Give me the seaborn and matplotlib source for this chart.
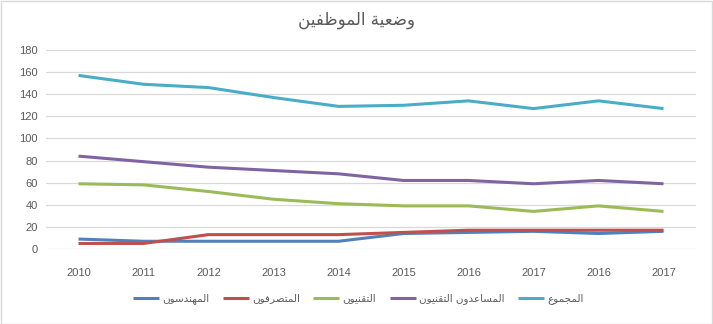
import matplotlib
matplotlib.use("Agg")
import matplotlib.pyplot as plt
import seaborn as sns
import pandas as pd

# ---------------- data ----------------
years = ["2010", "2011", "2012", "2013", "2014", "2015", "2016", "2017", "2016", "2017"]
engineers = [9, 7, 7, 7, 7, 14, 15, 16, 14, 16]
administrators = [5, 5, 13, 13, 13, 15, 17, 17, 17, 17]
technicians = [59, 58, 52, 45, 41, 39, 39, 34, 39, 34]
assistant_technicians = [84, 79, 74, 71, 68, 62, 62, 59, 62, 59]
total = [157, 149, 146, 137, 129, 130, 134, 127, 134, 127]

title_text = "وضعية الموظفين"
series_names = ["المهندسون", "المتصرفون", "التقنيون", "المساعدون التقنيون", "المجموع"]
colors = ["#4F81BD", "#C0504D", "#9BBB59", "#8064A2", "#4BACC6"]

# ------------- minimal Arabic shaping (matplotlib has no bidi/shaping) -------------
FORMS = {  # isolated, final, initial, medial (None => right-joining only)
    "ا": (0xFE8D, 0xFE8E, None, None),
    "ت": (0xFE95, 0xFE96, 0xFE97, 0xFE98),
    "ة": (0xFE93, 0xFE94, None, None),
    "ج": (0xFE9D, 0xFE9E, 0xFE9F, 0xFEA0),
    "د": (0xFEA9, 0xFEAA, None, None),
    "ر": (0xFEAD, 0xFEAE, None, None),
    "س": (0xFEB1, 0xFEB2, 0xFEB3, 0xFEB4),
    "ص": (0xFEB9, 0xFEBA, 0xFEBB, 0xFEBC),
    "ض": (0xFEBD, 0xFEBE, 0xFEBF, 0xFEC0),
    "ظ": (0xFEC5, 0xFEC6, 0xFEC7, 0xFEC8),
    "ع": (0xFEC9, 0xFECA, 0xFECB, 0xFECC),
    "ف": (0xFED1, 0xFED2, 0xFED3, 0xFED4),
    "ق": (0xFED5, 0xFED6, 0xFED7, 0xFED8),
    "ل": (0xFEDD, 0xFEDE, 0xFEDF, 0xFEE0),
    "م": (0xFEE1, 0xFEE2, 0xFEE3, 0xFEE4),
    "ن": (0xFEE5, 0xFEE6, 0xFEE7, 0xFEE8),
    "ه": (0xFEE9, 0xFEEA, 0xFEEB, 0xFEEC),
    "و": (0xFEED, 0xFEEE, None, None),
    "ي": (0xFEF1, 0xFEF2, 0xFEF3, 0xFEF4),
}


def shape(text):
    out = []
    n = len(text)
    for i, ch in enumerate(text):
        if ch not in FORMS:
            out.append(ch)
            continue
        prev = text[i - 1] if i > 0 else None
        nxt = text[i + 1] if i < n - 1 else None
        jp = prev in FORMS and FORMS[prev][2] is not None
        jn = FORMS[ch][2] is not None and nxt in FORMS
        iso, fin, ini, med = FORMS[ch]
        if jp and jn:
            code = med
        elif jp:
            code = fin
        elif jn:
            code = ini
        else:
            code = iso
        out.append(chr(code))
    return "".join(out)[::-1]


# ---------------- figure ----------------
sns.set_theme(style="white")
plt.rcParams["font.family"] = ["DejaVu Sans"]

series = [engineers, administrators, technicians, assistant_technicians, total]

fig = plt.figure(figsize=(7.13, 3.24), dpi=100)
ax = fig.add_axes([46 / 713, (324 - 249) / 324, (696 - 46) / 713, (249 - 50) / 324])

for vals, name, col in zip(series, series_names, colors):
    d = pd.DataFrame({"x": range(len(years)), "y": vals})
    sns.lineplot(data=d, x="x", y="y", ax=ax, color=col, linewidth=2.2,
                 label=shape(name), solid_capstyle="butt")

ax.set_xlim(-0.5, len(years) - 0.5)
ax.set_ylim(0, 180)
ax.set_yticks(range(0, 181, 20))
ax.set_xticks(range(len(years)))
ax.set_xticklabels(years)
ax.set_xlabel("")
ax.set_ylabel("")
ax.grid(axis="y", color="#D9D9D9", linewidth=0.9)
ax.set_axisbelow(True)
for s in ax.spines.values():
    s.set_visible(False)
ax.tick_params(axis="both", length=0, labelsize=8, colors="#595959", pad=6)
ax.tick_params(axis="x", pad=14)
for lbl in ax.get_xticklabels() + ax.get_yticklabels():
    lbl.set_family("Liberation Sans")

leg = ax.legend(loc="center", bbox_to_anchor=(358 / 713, 1 - 299 / 324),
                bbox_transform=fig.transFigure, ncol=5, frameon=False,
                fontsize=7.5, handlelength=2.5, columnspacing=1.3, handletextpad=0.3)
for t in leg.get_texts():
    t.set_color("#595959")

fig.text(357 / 713, 1 - 20 / 324, shape(title_text), ha="center", va="center",
         fontsize=12, color="#595959")

# outer border
fig.patches.append(plt.Rectangle((0.5 / 713, 0.5 / 324), 1 - 1.5 / 713, 1 - 1.5 / 324,
                                 transform=fig.transFigure, fill=False,
                                 edgecolor="#D9D9D9", linewidth=1))

fig.savefig("out.png", dpi=100)
